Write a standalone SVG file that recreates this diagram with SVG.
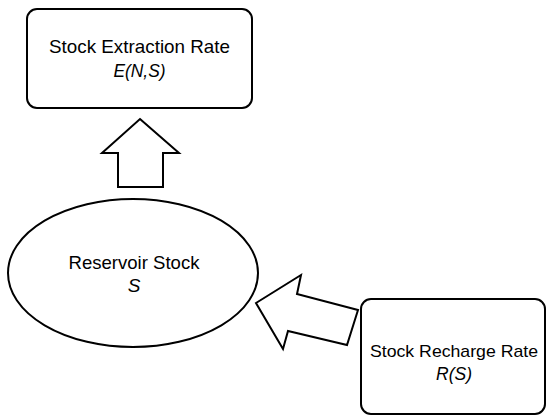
<svg xmlns="http://www.w3.org/2000/svg" width="547" height="416" viewBox="0 0 547 416">
<style>
.shape{fill:#fff;stroke:#000;stroke-width:2;stroke-linejoin:miter}
.t{font-family:"Liberation Sans",Arial,sans-serif;font-size:19px;fill:#000;text-anchor:middle}
.i{font-style:italic}
</style>
<rect width="547" height="416" fill="#fff"/>
<g id="connectors">
<polygon class="shape" points="140,119 179,153 163,153 163,187 118,187 118,153 102,153"/>
<polygon class="shape" points="256,303 301,275 297,294 358,310 347,345 288,331 283,349"/>
</g>
<g id="extraction">
<rect class="shape" x="27" y="9" width="225" height="99" rx="10"/>
<text class="t" x="139.5" y="53" textLength="181" lengthAdjust="spacingAndGlyphs">Stock Extraction Rate</text>
<text class="t i" x="139.5" y="77" textLength="52" lengthAdjust="spacingAndGlyphs">E(N,S)</text>
</g>
<g id="reservoir">
<ellipse class="shape" cx="133" cy="273" rx="125" ry="74"/>
<text class="t" x="134" y="269" textLength="131" lengthAdjust="spacingAndGlyphs">Reservoir Stock</text>
<text class="t i" x="134" y="292">S</text>
</g>
<g id="recharge">
<rect class="shape" x="361" y="299" width="184" height="115" rx="10"/>
<text class="t" x="454" y="357" font-size="17" style="font-size:17px" textLength="168" lengthAdjust="spacingAndGlyphs">Stock Recharge Rate</text>
<text class="t i" x="454" y="380" textLength="36" lengthAdjust="spacingAndGlyphs">R(S)</text>
</g>
</svg>
